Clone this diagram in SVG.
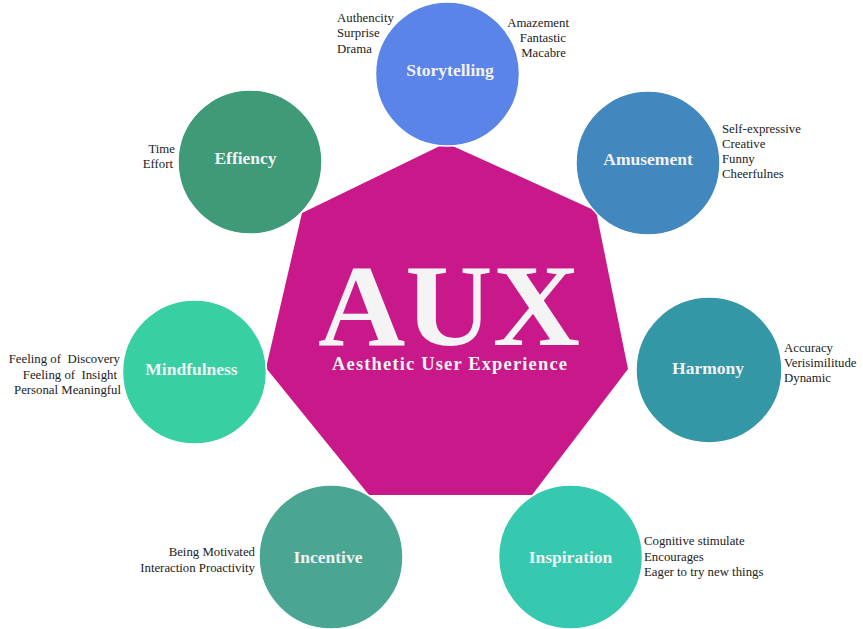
<svg xmlns="http://www.w3.org/2000/svg" width="863" height="629" viewBox="0 0 863 629">
  <style>
    .node circle { stroke: #ffffff; stroke-width: 1.5; }
    .title { font-family: "Liberation Serif", "DejaVu Serif", serif; font-weight: bold; fill: #f4f4f4; text-anchor: middle; }
    .label { font-family: "Liberation Serif", "DejaVu Serif", serif; font-weight: bold; font-size: 17.5px; fill: #f2f2f2; text-anchor: middle; }
    .note { font-family: "Liberation Serif", "DejaVu Serif", serif; font-size: 12.8px; fill: #222222; }
    .end { text-anchor: end; }
  </style>
  <rect width="863" height="629" fill="#ffffff"/>

  <!-- central heptagon -->
  <g id="aux">
    <polygon points="446,143 596,211 628,369 532,495 369,495 266,368 302,213" fill="#c9188a"/>
    <text class="title" x="449" y="345" font-size="116" textLength="262" lengthAdjust="spacingAndGlyphs">AUX</text>
    <text class="title" x="449.5" y="370" font-size="18.5" textLength="235" lengthAdjust="spacing">Aesthetic User Experience</text>
  </g>

  <g id="storytelling" class="node">
    <circle cx="447.5" cy="74" r="72" fill="#5b84e9"/>
    <text class="label" x="450" y="76">Storytelling</text>
    <text class="note" x="337" y="22">Authencity</text>
    <text class="note" x="337" y="37">Surprise</text>
    <text class="note" x="337" y="53">Drama</text>
    <text class="note end" x="569" y="27">Amazement</text>
    <text class="note end" x="566" y="42">Fantastic</text>
    <text class="note end" x="566" y="57">Macabre</text>
  </g>

  <g id="effiency" class="node">
    <circle cx="250" cy="162" r="72" fill="#3f9a78"/>
    <text class="label" x="245.5" y="164">Effiency</text>
    <text class="note end" x="175" y="153">Time</text>
    <text class="note end" x="173" y="168">Effort</text>
  </g>

  <g id="amusement" class="node">
    <circle cx="648" cy="163" r="72" fill="#4287bd"/>
    <text class="label" x="648" y="165">Amusement</text>
    <text class="note" x="722" y="133">Self-expressive</text>
    <text class="note" x="722" y="148">Creative</text>
    <text class="note" x="722" y="163">Funny</text>
    <text class="note" x="722" y="178">Cheerfulnes</text>
  </g>

  <g id="mindfulness" class="node">
    <circle cx="194.5" cy="372" r="72" fill="#38cfa2"/>
    <text class="label" x="191.5" y="375">Mindfulness</text>
    <text class="note end" x="120" y="363" xml:space="preserve">Feeling of  Discovery</text>
    <text class="note end" x="117" y="379" xml:space="preserve">Feeling of  Insight</text>
    <text class="note end" x="121" y="394">Personal Meaningful</text>
  </g>

  <g id="harmony" class="node">
    <circle cx="709" cy="370" r="73" fill="#3497a6"/>
    <text class="label" x="708" y="374">Harmony</text>
    <text class="note" x="784" y="352">Accuracy</text>
    <text class="note" x="784" y="367">Verisimilitude</text>
    <text class="note" x="784" y="382">Dynamic</text>
  </g>

  <g id="incentive" class="node">
    <circle cx="331" cy="557" r="72" fill="#4aa592"/>
    <text class="label" x="328" y="563">Incentive</text>
    <text class="note end" x="255" y="556">Being Motivated</text>
    <text class="note end" x="255" y="572">Interaction Proactivity</text>
  </g>

  <g id="inspiration" class="node">
    <circle cx="570.5" cy="557" r="72" fill="#37c9b0"/>
    <text class="label" x="570.5" y="563">Inspiration</text>
    <text class="note" x="644" y="545">Cognitive stimulate</text>
    <text class="note" x="644" y="561">Encourages</text>
    <text class="note" x="644" y="576">Eager to try new things</text>
  </g>
</svg>
